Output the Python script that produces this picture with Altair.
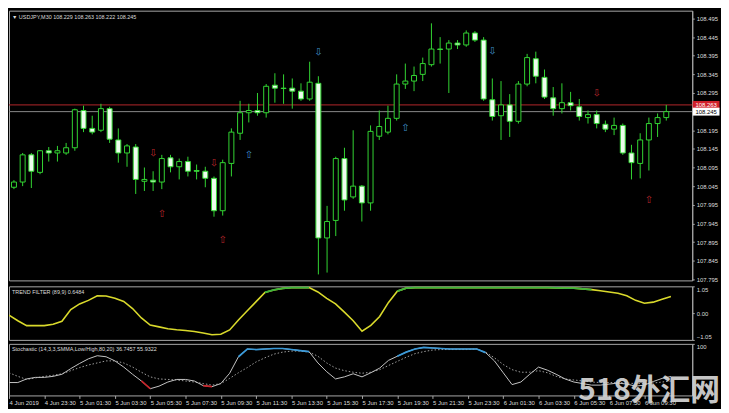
import altair as alt
import pandas as pd

# ---------------- values ----------------
TIME_LABELS = ["4 Jun 2019", "4 Jun 23:30", "5 Jun 01:30", "5 Jun 03:30", "5 Jun 05:30",
               "5 Jun 07:30", "5 Jun 09:30", "5 Jun 11:30", "5 Jun 13:30", "5 Jun 15:30",
               "5 Jun 17:30", "5 Jun 19:30", "5 Jun 21:30", "5 Jun 23:30", "6 Jun 01:30",
               "6 Jun 03:30", "6 Jun 05:30", "6 Jun 07:30", "6 Jun 09:30"]
TIME_BARS = [0, 4, 8, 12, 16, 20, 24, 28, 32, 36, 40, 44, 48, 52, 56, 60, 64, 68, 72]

OPEN = [108.042, 108.056, 108.129, 108.082, 108.140, 108.134, 108.134, 108.148, 108.248, 108.200,
        108.195, 108.253, 108.169, 108.134, 108.150, 108.058, 108.061, 108.056, 108.121, 108.097,
        108.111, 108.087, 108.085, 108.066, 107.979, 108.106, 108.187, 108.242, 108.248, 108.242,
        108.316, 108.308, 108.308, 108.300, 108.279, 108.321, 107.906, 107.953, 108.119, 108.016,
        108.045, 108.000, 108.179, 108.190, 108.227, 108.319, 108.327, 108.345, 108.371, 108.413,
        108.413, 108.429, 108.424, 108.456, 108.437, 108.277, 108.234, 108.263, 108.219, 108.319,
        108.387, 108.337, 108.282, 108.253, 108.269, 108.258, 108.229, 108.237, 108.211, 108.198,
        108.208, 108.134, 108.106, 108.169, 108.213, 108.229]
CLOSE = [108.056, 108.129, 108.085, 108.140, 108.134, 108.140, 108.148, 108.250, 108.200, 108.190,
         108.253, 108.171, 108.134, 108.153, 108.063, 108.063, 108.056, 108.119, 108.097, 108.111,
         108.085, 108.085, 108.066, 107.979, 108.108, 108.190, 108.242, 108.248, 108.242, 108.313,
         108.308, 108.307, 108.300, 108.279, 108.324, 107.906, 107.950, 108.119, 108.008, 108.045,
         108.000, 108.192, 108.205, 108.227, 108.319, 108.327, 108.342, 108.374, 108.413, 108.412,
         108.429, 108.424, 108.456, 108.437, 108.279, 108.232, 108.263, 108.219, 108.319, 108.390,
         108.340, 108.284, 108.253, 108.269, 108.261, 108.232, 108.237, 108.213, 108.198, 108.208,
         108.134, 108.108, 108.169, 108.213, 108.229, 108.245]
HIGH = [108.061, 108.134, 108.134, 108.142, 108.150, 108.153, 108.161, 108.253, 108.261, 108.234,
        108.266, 108.258, 108.200, 108.158, 108.158, 108.095, 108.085, 108.129, 108.129, 108.119,
        108.124, 108.103, 108.097, 108.071, 108.116, 108.200, 108.274, 108.266, 108.295, 108.319,
        108.348, 108.345, 108.334, 108.321, 108.379, 108.340, 107.992, 108.124, 108.148, 108.195,
        108.048, 108.208, 108.248, 108.261, 108.345, 108.374, 108.366, 108.390, 108.482, 108.445,
        108.437, 108.437, 108.463, 108.461, 108.445, 108.334, 108.327, 108.292, 108.327, 108.400,
        108.406, 108.358, 108.311, 108.321, 108.298, 108.279, 108.248, 108.248, 108.221, 108.229,
        108.213, 108.156, 108.187, 108.229, 108.240, 108.263]
LOW = [108.037, 108.045, 108.040, 108.077, 108.111, 108.111, 108.129, 108.140, 108.190, 108.184,
       108.190, 108.161, 108.108, 108.097, 108.024, 108.032, 108.032, 108.037, 108.082, 108.063,
       108.071, 108.063, 108.042, 107.963, 107.966, 108.071, 108.169, 108.216, 108.234, 108.229,
       108.269, 108.266, 108.253, 108.274, 108.274, 107.808, 107.813, 107.911, 107.979, 108.011,
       107.950, 107.979, 108.169, 108.184, 108.221, 108.306, 108.300, 108.327, 108.366, 108.374,
       108.295, 108.413, 108.419, 108.432, 108.274, 108.221, 108.169, 108.177, 108.213, 108.313,
       108.321, 108.279, 108.234, 108.240, 108.248, 108.221, 108.213, 108.200, 108.190, 108.182,
       108.129, 108.063, 108.066, 108.087, 108.177, 108.221]

PRICE_TICKS = [108.495, 108.445, 108.395, 108.345, 108.295, 108.245, 108.195, 108.145,
               108.095, 108.045, 107.995, 107.945, 107.895, 107.845, 107.795]
BID = 108.245
ASK = 108.263

ARROW_BARS = [16, 17, 23, 24, 27, 35, 45, 55, 67, 73]
ARROW_PRICES = [108.134, 107.971, 108.108, 107.900, 108.129, 108.406, 108.200, 108.408, 108.295, 108.008]
ARROW_GLYPHS = ["⇩", "⇧", "⇩", "⇧", "⇧", "⇩", "⇧", "⇩", "⇩", "⇧"]
ARROW_KIND = ["red", "red", "red", "red", "blue", "blue", "blue", "blue", "red", "red"]

TREND = [-0.08, -0.30, -0.49, -0.49, -0.49, -0.44, -0.32, 0.14, 0.36, 0.50,
         0.68, 0.67, 0.58, 0.46, 0.18, -0.19, -0.47, -0.54, -0.61, -0.65,
         -0.68, -0.72, -0.78, -0.85, -0.83, -0.66, -0.27, 0.09, 0.45, 0.81,
         0.91, 0.97, 1.0, 1.0, 1.0, 0.83, 0.58, 0.36, 0.04, -0.30,
         -0.71, -0.48, -0.13, 0.42, 0.86, 0.98, 1.0, 1.0, 1.0, 1.0,
         1.0, 1.0, 1.0, 1.0, 1.0, 1.0, 1.0, 1.0, 1.0, 1.0,
         1.0, 1.0, 0.99, 0.98, 0.98, 0.95, 0.92, 0.88, 0.83, 0.78,
         0.68, 0.50, 0.39, 0.43, 0.54, 0.6484]
TREND_GREEN = [(29, 34), (44, 66)]
TREND_TICKS = [1.05, 0.0, -1.05]

STOCH_MAIN = [25, 25, 32, 35, 35, 37, 41, 52, 62, 71,
              77, 75, 67, 55, 41, 28, 13, 18, 26, 31,
              31, 28, 19, 17, 23, 43, 75, 90, 89, 90,
              91, 91, 89, 87, 85, 63, 46, 32, 36, 42,
              36, 44, 53, 68, 76, 84, 90, 93, 92, 91,
              90, 90, 90, 90, 83, 67, 44, 21, 26, 41,
              55, 49, 41, 32, 26, 23, 20, 20, 22, 24,
              22, 18, 20, 27, 33, 36.7]
STOCH_SIGNAL = [44, 37, 31, 34, 37, 39, 42, 48, 54, 59,
                63, 67, 67, 63, 55, 45, 36, 32, 31, 30,
                28, 26, 23, 20, 23, 33, 44, 54, 65, 73,
                80, 84, 86, 86, 84, 76, 63, 53, 48, 45,
                43, 45, 50, 58, 66, 74, 81, 85, 88, 89,
                89, 89, 89, 90, 84, 73, 60, 50, 45, 45,
                48, 44, 37, 32, 30, 28, 26, 25, 25, 25,
                24, 23, 23, 24, 26, 28]
STOCH_BLUE = [(26, 34), (44, 54)]
STOCH_RED = [(15, 16), (22, 23)]
STOCH_TICKS = [100]

HEADER_PRICE = "▼ USDJPY,M30  108.229 108.263 108.222 108.245"
HEADER_TREND = "TREND FILTER (89,9) 0.6484"
HEADER_STOCH = "Stochastic (14,3,3,SMMA,Low/High,80,20) 36.7457 55.9322"
WATERMARK = "518外汇网"

# ---------------- styling ----------------
W = 689
H_PRICE, H_TREND, H_STOCH = 272, 54, 52
BAR_PX = 8.9
GREEN = "#33d633"
BEAR_FILL = "#eefcee"
LABEL = "#dcdcdc"
FONT = "Liberation Sans"
RED_ARROW = "#b8272c"
BLUE_ARROW = "#3f8fcb"

xs = alt.Scale(domain=[0, W / BAR_PX], nice=False, zero=False)
ys_price = alt.Scale(domain=[107.792, 108.516], nice=False, zero=False)
ys_trend = alt.Scale(domain=[-1.05, 1.05], nice=False, zero=False)
ys_stoch = alt.Scale(domain=[0, 100], nice=False, zero=False)

price_axis = alt.Axis(orient="right", values=PRICE_TICKS, format=".3f", title=None, grid=False,
                      tickSize=2, labelPadding=2, labelOverlap=False)
trend_axis = alt.Axis(orient="right", values=TREND_TICKS, format=".2f", title=None, grid=False,
                      tickSize=2, labelPadding=2, labelFlush=True, labelOverlap=False)
stoch_axis = alt.Axis(orient="right", values=STOCH_TICKS, format="d", title=None, grid=False,
                      tickSize=2, labelPadding=2, labelFlush=True, labelOverlap=False)
label_js = "[" + ",".join("'%s'" % t for t in TIME_LABELS) + "][round(datum.value/4)]"
time_axis = alt.Axis(values=TIME_BARS, labelExpr=label_js, labelAlign="left", title=None,
                     grid=False, domain=False, tickSize=3, labelPadding=1, labelOverlap=False,
                     labelFlush=False, labelBound=False)


def X(field="i", axis=None):
    return alt.X(field, type="quantitative", scale=xs, axis=axis)


def PY(field):
    return alt.Y(field, type="quantitative", scale=ys_price, axis=price_axis)


def segments(values, ranges):
    rows = []
    for k, (a, b) in enumerate(ranges):
        for i in range(a, b + 1):
            rows.append({"i": i, "v": values[i], "seg": k})
    return pd.DataFrame(rows)


candles = pd.DataFrame({"i": range(len(OPEN)), "o": OPEN, "h": HIGH, "l": LOW, "c": CLOSE})
candles["top"] = candles[["o", "c"]].max(axis=1)
candles["bot"] = candles[["o", "c"]].min(axis=1)
candles["bull"] = candles["c"] > candles["o"]

# ---------------- price pane ----------------
wicks = alt.Chart(candles).mark_rule(color=GREEN, strokeWidth=1, clip=True).encode(
    x=X(), y=PY("l"), y2="h")
bodies = alt.Chart(candles).mark_bar(size=5, stroke=GREEN, strokeWidth=1, clip=True).encode(
    x=X(), y=PY("bot"), y2="top",
    fill=alt.condition("datum.bull", alt.value("black"), alt.value(BEAR_FILL)))

ask_rule = alt.Chart(pd.DataFrame({"p": [ASK]})).mark_rule(strokeWidth=1, color="#b3262b").encode(y=PY("p"))
bid_rule = alt.Chart(pd.DataFrame({"p": [BID]})).mark_rule(strokeWidth=1, color="#8a8a8a").encode(y=PY("p"))

ask_df = pd.DataFrame({"p": [ASK], "t": ["%.3f" % ASK]})
bid_df = pd.DataFrame({"p": [BID], "t": ["%.3f" % BID]})
ask_box = alt.Chart(ask_df).mark_tick(orient="horizontal", size=27, thickness=8, color="#d0202a",
                                      opacity=1).encode(x=alt.value(W + 14), y=PY("p"))
bid_box = alt.Chart(bid_df).mark_tick(orient="horizontal", size=27, thickness=8, color="#ffffff",
                                      opacity=1).encode(x=alt.value(W + 14), y=PY("p"))
ask_text = alt.Chart(ask_df).mark_text(fontSize=6, font=FONT, align="center", baseline="middle",
                                       color="#ffffff").encode(x=alt.value(W + 14), y=PY("p"), text="t:N")
bid_text = alt.Chart(bid_df).mark_text(fontSize=6, font=FONT, align="center", baseline="middle",
                                       color="#000000").encode(x=alt.value(W + 14), y=PY("p"), text="t:N")

arrows_df = pd.DataFrame({"i": ARROW_BARS, "p": ARROW_PRICES, "g": ARROW_GLYPHS, "k": ARROW_KIND})
arrows_red = alt.Chart(arrows_df[arrows_df.k == "red"]).mark_text(
    fontSize=10, font="DejaVu Sans", baseline="middle", color=RED_ARROW).encode(
    x=X(), y=PY("p"), text="g:N")
arrows_blue = alt.Chart(arrows_df[arrows_df.k == "blue"]).mark_text(
    fontSize=10, font="DejaVu Sans", baseline="middle", color=BLUE_ARROW).encode(
    x=X(), y=PY("p"), text="g:N")

title_p = alt.Chart(pd.DataFrame({"t": [HEADER_PRICE]})).mark_text(
    fontSize=5.5, font=FONT, align="left", baseline="middle", color=LABEL).encode(
    x=alt.value(3), y=alt.value(6), text="t:N")

price = alt.layer(ask_rule, bid_rule, wicks, bodies, arrows_red, arrows_blue,
                  ask_box, bid_box, ask_text, bid_text, title_p).properties(width=W, height=H_PRICE)

# ---------------- trend filter pane ----------------
trend_df = pd.DataFrame({"i": range(len(TREND)), "v": TREND})
trend_green = segments(TREND, TREND_GREEN)
t_yellow = alt.Chart(trend_df).mark_line(color="#d9d92b", strokeWidth=1.6, clip=True).encode(
    x=X(), y=alt.Y("v:Q", scale=ys_trend, axis=trend_axis))
t_green = alt.Chart(trend_green).mark_line(color="#3cb43c", strokeWidth=1.8, clip=True).encode(
    x=X(), y=alt.Y("v:Q", scale=ys_trend, axis=trend_axis), detail="seg:N")
title_t = alt.Chart(pd.DataFrame({"t": [HEADER_TREND]})).mark_text(
    fontSize=5.5, font=FONT, align="left", baseline="middle", color=LABEL).encode(
    x=alt.value(3), y=alt.value(6), text="t:N")
trend = alt.layer(t_yellow, t_green, title_t).properties(width=W, height=H_TREND)

# ---------------- stochastic pane ----------------
stoch_df = pd.DataFrame({"i": range(len(STOCH_MAIN)), "m": STOCH_MAIN, "s": STOCH_SIGNAL})
blue_df = segments(STOCH_MAIN, STOCH_BLUE)
red_df = segments(STOCH_MAIN, STOCH_RED)
s_signal = alt.Chart(stoch_df).mark_line(color="#a0a0a0", strokeWidth=1, strokeDash=[1.5, 2], clip=True).encode(
    x=X(axis=time_axis), y=alt.Y("s:Q", scale=ys_stoch, axis=stoch_axis))
s_main = alt.Chart(stoch_df).mark_line(color="#c4c4c4", strokeWidth=1, clip=True).encode(
    x=X(axis=time_axis), y=alt.Y("m:Q", scale=ys_stoch, axis=stoch_axis))
s_blue = alt.Chart(blue_df).mark_line(color="#3a9ad9", strokeWidth=1.7, clip=True).encode(
    x=X(axis=time_axis), y=alt.Y("v:Q", scale=ys_stoch, axis=stoch_axis), detail="seg:N")
s_red = alt.Chart(red_df).mark_line(color="#c8262c", strokeWidth=1.7, clip=True).encode(
    x=X(axis=time_axis), y=alt.Y("v:Q", scale=ys_stoch, axis=stoch_axis), detail="seg:N")
title_s = alt.Chart(pd.DataFrame({"t": [HEADER_STOCH]})).mark_text(
    fontSize=5.5, font=FONT, align="left", baseline="middle", color=LABEL).encode(
    x=alt.value(3), y=alt.value(5), text="t:N")
water = alt.Chart(pd.DataFrame({"t": [WATERMARK]})).mark_text(
    fontSize=30, font="Noto Sans CJK SC", fontWeight="bold", align="right", baseline="alphabetic",
    color="#d6d6d6", opacity=0.92).encode(
    x=alt.value(W + 28), y=alt.value(H_STOCH + 5), text="t:N")
stoch = alt.layer(s_signal, s_main, s_blue, s_red, title_s, water).properties(width=W, height=H_STOCH)

chart = alt.vconcat(price, trend, stoch, spacing=2).resolve_scale(
    x="independent", y="independent").properties(padding=0).configure(
    background="black").configure_view(stroke="#a8a8a8", strokeWidth=1).configure_axis(
    labelColor=LABEL, labelFont=FONT, labelFontSize=6, domainColor="#a8a8a8",
    tickColor="#a8a8a8", grid=False)

chart.save("out.html", embed_options={"renderer": "svg", "actions": False})
